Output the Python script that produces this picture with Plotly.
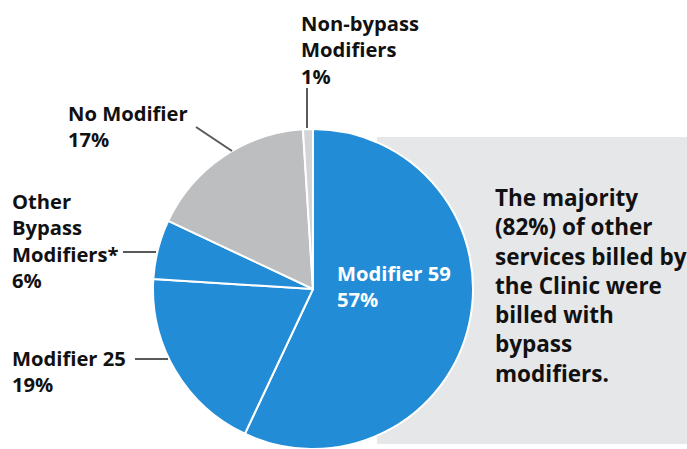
import plotly.graph_objects as go

# ---- data ----
categories = ["Modifier 59", "Modifier 25", "Other Bypass Modifiers*", "No Modifier", "Non-bypass Modifiers"]
shares = [57, 19, 6, 17, 1]
label_lines = [["Modifier 59"], ["Modifier 25"], ["Other", "Bypass", "Modifiers*"], ["No Modifier"], ["Non-bypass", "Modifiers"]]
callout_lines = ["The majority", "(82%) of other", "services billed by", "the Clinic were", "billed with", "bypass", "modifiers."]

# ---- styles ----
W, H = 687, 449
BLUE = "#238CD6"
GRAY = "#BDBEC0"
LIGHT = "#D3D4D6"
slice_colors = [BLUE, BLUE, BLUE, GRAY, LIGHT]
FONT = "Open Sans"
LBL = 20.2
BOX = 22.5

def px(x):
    return x / W

def py(y):
    return 1 - y / H

cx, cy, r = 313, 289, 161

fig = go.Figure(go.Pie(
    labels=categories, values=shares, sort=False, direction="clockwise", rotation=0,
    marker=dict(colors=slice_colors, line=dict(color="white", width=2)),
    textinfo="none", hoverinfo="label+percent", showlegend=False,
    domain=dict(x=[px(cx - r), px(cx + r)], y=[0, 2 * py(cy)]),
))

shapes = [dict(type="rect", xref="paper", yref="paper", x0=px(377), x1=1, y0=py(444), y1=py(137),
               fillcolor="#E6E7E8", line=dict(width=0), layer="below")]

# leader lines (pixel coords)
leaders = [
    (307, 88, 307, 128),
    (196, 127, 232, 151),
    (123, 252, 156, 252),
    (135, 359, 168, 359),
]
for x0, y0, x1, y1 in leaders:
    shapes.append(dict(type="line", xref="paper", yref="paper", x0=px(x0), y0=py(y0), x1=px(x1), y1=py(y1),
                       line=dict(color="#595959", width=2), layer="above"))

annotations = []

def add_block(lines, x, y_first, size, color="#111111"):
    n = len(lines)
    spacing = 1.3 * size
    mid = y_first + (n - 1) * spacing / 2
    annotations.append(dict(text="<br>".join("<b>" + t + "</b>" for t in lines), x=px(x) - 2 / W, y=py(mid),
                            xref="paper", yref="paper", xanchor="left", yanchor="middle", align="left",
                            showarrow=False, font=dict(family=FONT, size=size, color=color)))

# label anchors: (x, first line center y)
label_pos = [(337, 273), (12, 358), (12, 201), (68, 113), (301, 23)]
for k in range(len(categories)):
    lines = label_lines[k] + [f"{shares[k]}%"]
    x, y = label_pos[k]
    add_block(lines, x, y, LBL, "white" if k == 0 else "#111111")

add_block(callout_lines, 495, 198, BOX)

fig.update_layout(
    width=W, height=H, margin=dict(l=0, r=0, t=0, b=0),
    paper_bgcolor="white", plot_bgcolor="white",
    shapes=shapes, annotations=annotations,
)

fig.write_html("out.html", config={"displayModeBar": False},
               post_script="document.body.style.margin='0';document.body.style.overflow='hidden';")
